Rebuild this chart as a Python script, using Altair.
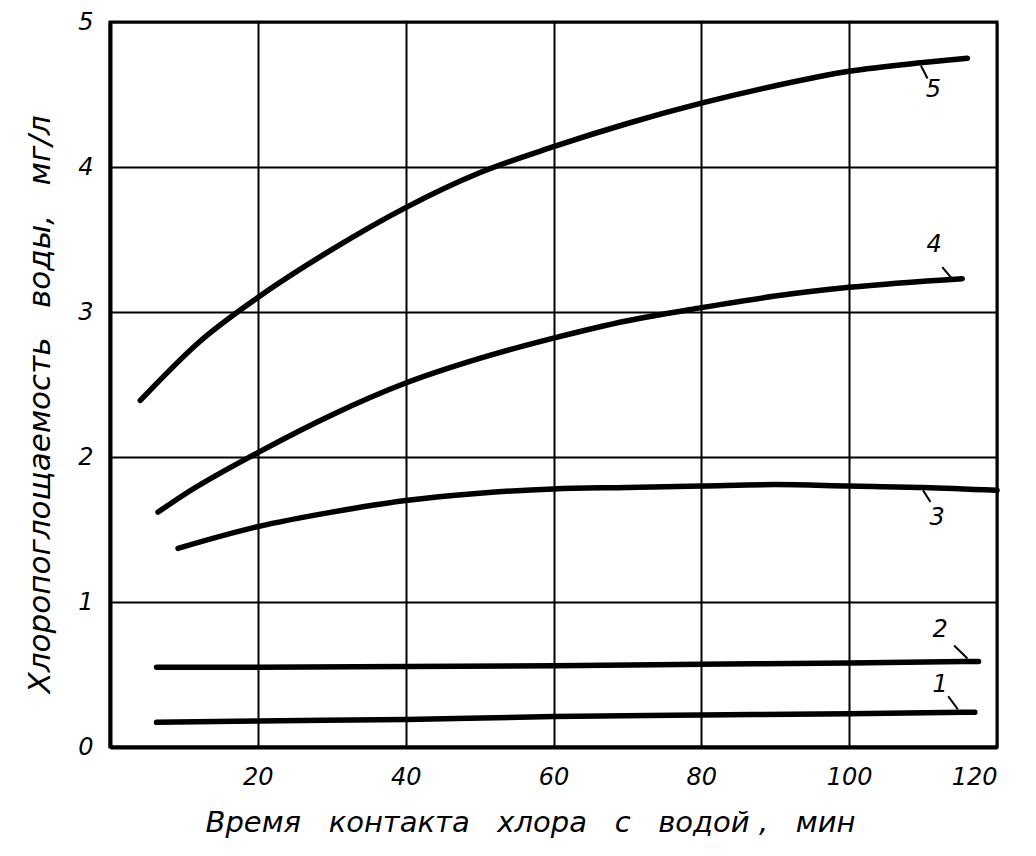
import altair as alt
import pandas as pd

# Curve data (time, min -> chlorine absorption, mg/l)
x_1 = [6.3, 20, 40, 60, 80, 100, 117]
y_1 = [0.17, 0.18, 0.19, 0.21, 0.22, 0.23, 0.24]
x_2 = [6.3, 20, 40, 60, 80, 100, 117.5]
y_2 = [0.55, 0.55, 0.555, 0.56, 0.57, 0.58, 0.59]
x_3 = [9.2, 20, 30, 40, 50, 60, 70, 80, 90, 100, 110, 120]
y_3 = [1.37, 1.52, 1.62, 1.70, 1.75, 1.78, 1.79, 1.80, 1.81, 1.80, 1.79, 1.77]
x_4 = [6.5, 10, 20, 30, 40, 50, 60, 70, 80, 90, 100, 115.3]
y_4 = [1.62, 1.74, 2.03, 2.29, 2.51, 2.68, 2.82, 2.94, 3.03, 3.11, 3.17, 3.23]
x_5 = [4.1, 12, 20, 30, 40, 50, 60, 70, 80, 90, 100, 110, 116]
y_5 = [2.39, 2.79, 3.10, 3.43, 3.72, 3.96, 4.14, 4.30, 4.44, 4.56, 4.66, 4.72, 4.75]

# Curve number labels
lab_text = ["1", "2", "3", "4", "5"]
lab_x = [112.3, 112.3, 111.9, 111.5, 111.4]
lab_y = [0.43, 0.81, 1.58, 3.46, 4.53]
# Leader strokes from label to curve
lead_x = [113.4, 114.2, 110.0, 112.6, 109.7]
lead_y = [0.35, 0.70, 1.77, 3.31, 4.70]
lead_x2 = [114.7, 116.0, 111.0, 113.9, 110.6]
lead_y2 = [0.26, 0.61, 1.69, 3.23, 4.61]

x_ticks = [20, 40, 60, 80, 100, 120]
y_ticks = [0, 1, 2, 3, 4, 5]

FONT = "DejaVu Sans"
SP = "\u00a0\u00a0\u00a0"

rows = []
for name, xs, ys in [("1", x_1, y_1), ("2", x_2, y_2), ("3", x_3, y_3), ("4", x_4, y_4), ("5", x_5, y_5)]:
    for a, b in zip(xs, ys):
        rows.append({"series": name, "t": a, "v": b})
curves = pd.DataFrame(rows)
labels = pd.DataFrame({"t": lab_x, "v": lab_y, "txt": lab_text})
leads = pd.DataFrame({"t": lead_x, "v": lead_y, "t2": lead_x2, "v2": lead_y2})

xscale = alt.Scale(domain=[0, 120], nice=False, zero=False)
yscale = alt.Scale(domain=[0, 5], nice=False)

xaxis = alt.Axis(
    values=x_ticks, grid=True, gridColor="black", gridWidth=2, gridOpacity=1,
    domainColor="black", domainWidth=4, ticks=False, format="d",
    labelFont=FONT, labelFontSize=24, labelFontStyle="italic", labelColor="black",
    labelPadding=18,
    title=SP.join(["Время", "контакта", "хлора", "с", "водой\u00a0,", "мин"]),
    titleFont=FONT, titleFontSize=29, titleFontStyle="italic", titleFontWeight="normal",
    titleColor="black", titleX=420, titleY=75, titleBaseline="middle", titleAlign="center",
)
yaxis = alt.Axis(
    values=y_ticks, grid=True, gridColor="black", gridWidth=2, gridOpacity=1,
    domainColor="black", domainWidth=4, ticks=False, format="d",
    labelFont=FONT, labelFontSize=24, labelFontStyle="italic", labelColor="black",
    labelPadding=17,
    title=SP.join(["Хлоропоглощаемость", "воды,", "мг/л"]),
    titleFont=FONT, titleFontSize=31, titleFontStyle="italic", titleFontWeight="normal",
    titleColor="black", titleX=-70, titleY=382, titleAngle=-90,
    titleBaseline="middle", titleAlign="center",
)

lines = alt.Chart(curves).mark_line(
    color="black", strokeWidth=5.5, strokeCap="round", interpolate="monotone"
).encode(
    x=alt.X("t:Q", scale=xscale, axis=xaxis),
    y=alt.Y("v:Q", scale=yscale, axis=yaxis),
    detail="series:N",
)

rules = alt.Chart(leads).mark_rule(color="black", strokeWidth=2).encode(
    x=alt.X("t:Q", scale=xscale), y=alt.Y("v:Q", scale=yscale),
    x2="t2:Q", y2="v2:Q",
)

texts = alt.Chart(labels).mark_text(
    font=FONT, fontSize=24, fontStyle="italic", color="black",
    align="center", baseline="middle",
).encode(
    x=alt.X("t:Q", scale=xscale), y=alt.Y("v:Q", scale=yscale), text="txt:N",
)

chart = alt.layer(lines, rules, texts).properties(
    width=887, height=725,
    autosize=alt.AutoSizeParams(type="none"),
    padding={"left": 102, "top": 14, "right": 20, "bottom": 100},
    background="white",
).configure_view(stroke="black", strokeWidth=3)

chart.save("out.html", embed_options={"renderer": "svg", "actions": False})
